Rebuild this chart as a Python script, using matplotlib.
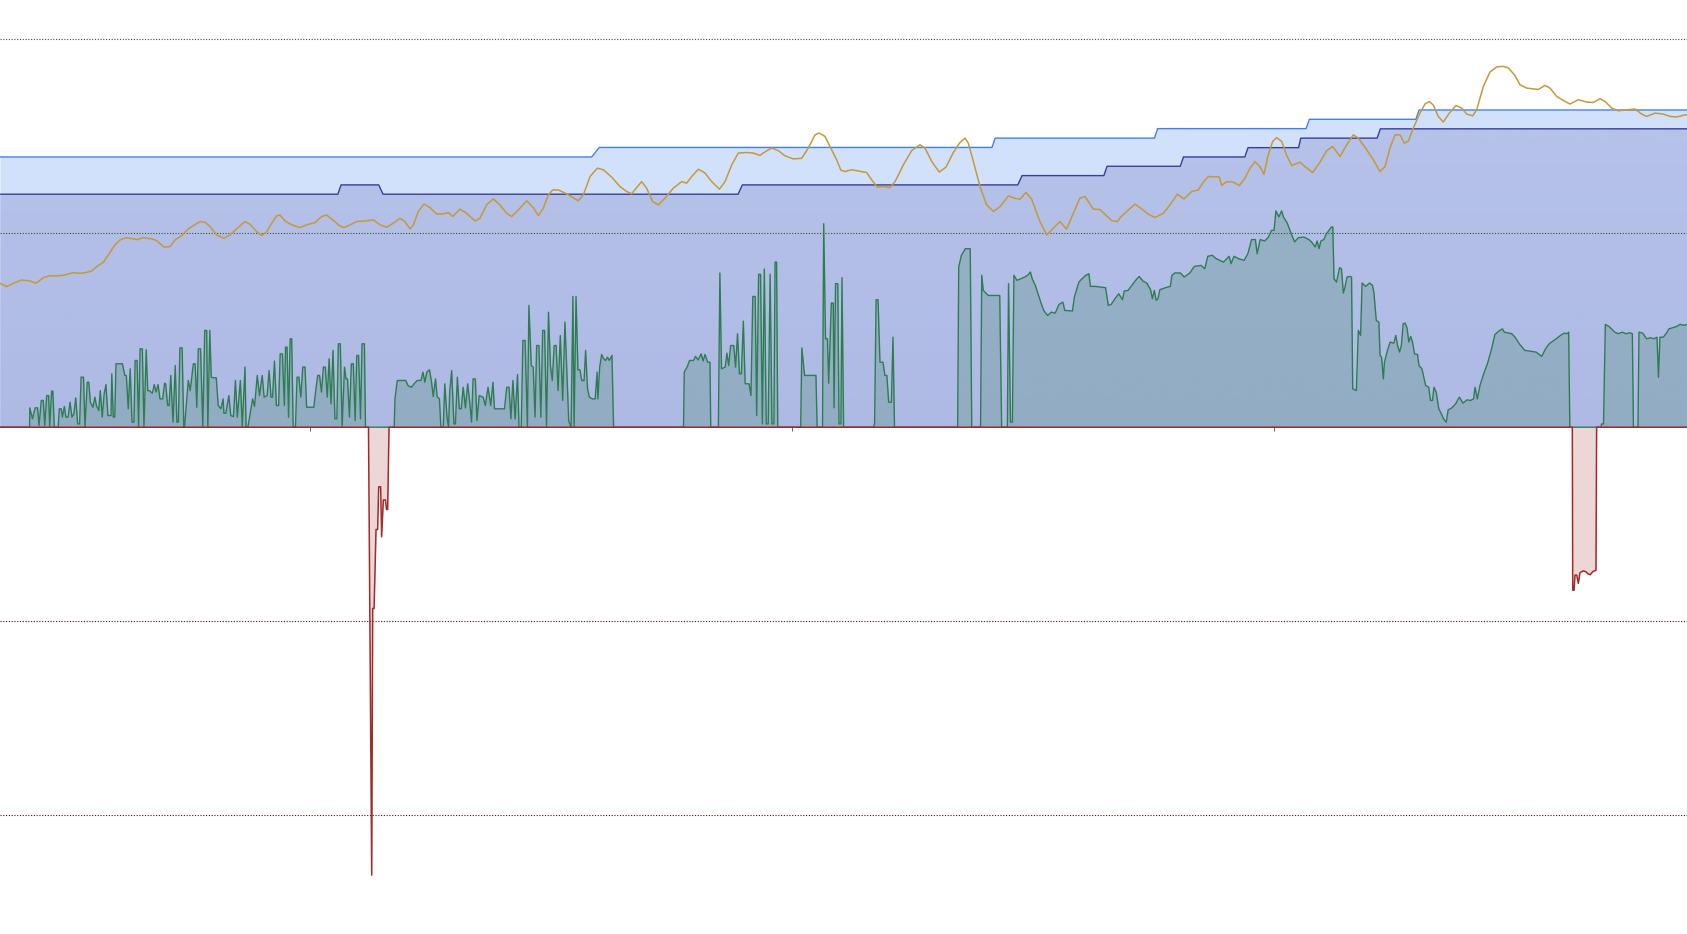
import numpy as np
import matplotlib
matplotlib.use("Agg")
import matplotlib.pyplot as plt
import matplotlib.colors as mcolors

# ---- data (x = sample index, values in % ; grid every 100) ----
blue_x = [0, 550, 557, 922, 925, 1073, 1076, 1214, 1217, 1316, 1319, 1568]
blue_v = [139.3, 139.3, 144.2, 144.2, 149.0, 149.0, 153.9, 153.9, 158.7, 158.7, 163.5, 163.5]

navy_x = [0, 314, 317, 352, 356, 686, 690, 946, 950, 1026, 1029, 1097, 1100,
          1157, 1160, 1207, 1209, 1280, 1283, 1568]
navy_v = [120.1, 120.1, 124.9, 124.9, 120.1, 120.1, 124.9, 124.9, 129.7, 129.7,
          134.5, 134.5, 139.3, 139.3, 144.1, 144.1, 149.0, 149.0, 153.8, 153.8]

gold_x = [0, 6.2, 12.4, 20.1, 27.9, 33.5, 40.3, 46.5, 54.2, 60.4, 68.2, 74.4, 80.5, 85.2,
          89.9, 96, 100.7, 106.9, 111.5, 117.1, 123.9, 127.6, 133.2, 141, 145.6, 152.4,
          158, 162.7, 168.9, 175, 179.7, 185.9, 190.5, 195.2, 201.4, 208.2, 213.8, 220.6,
          227.7, 232.4, 238.6, 243.2, 247.9, 252.5, 257.1, 260.2, 264.9, 271.1, 278.8,
          285, 292.8, 299, 303.6, 309.2, 315.4, 319.7, 325.3, 331.5, 339.2, 347, 353.2,
          359.4, 365.6, 371.8, 376.4, 381.1, 384.2, 388.8, 394.1, 399.7, 405.9, 412,
          416.7, 420.7, 427.5, 433.7, 441.5, 446.1, 452.3, 458.5, 464.7, 470.9, 475.6,
          481.8, 489.5, 495.7, 500.4, 505, 509.7, 513.7, 518.9, 523.6, 528.2, 537.5,
          542.2, 548.4, 555.2, 560.8, 568.5, 576.3, 582.5, 587.1, 592.4, 596.4, 601,
          606.6, 611.9, 618.1, 625.8, 633.6, 638.2, 642.9, 649.1, 655.3, 661.5, 668.6,
          673.9, 680.1, 686.2, 694, 700.2, 706.4, 710.1, 717.2, 723.4, 729.6, 737.4,
          745.1, 751.3, 757.5, 761.5, 766.8, 772.1, 777.7, 781.5, 785.4, 791.6, 797.8,
          805.5, 810.2, 815.4, 821, 827.2, 831.9, 839.6, 847.4, 855.1, 859.7, 866, 873,
          879.3, 886.1, 892.3, 896.9, 900, 904.7, 910.9, 917.1, 923.3, 929.5, 937.2,
          943.4, 948, 953.6, 958.9, 966.6, 972.9, 979, 985.2, 991.4, 997.6, 1003.8,
          1008.5, 1016.2, 1022.4, 1028.6, 1033.3, 1038.5, 1042, 1047.2, 1054.9, 1061.2,
          1067.3, 1073.5, 1081.3, 1087.5, 1094.3, 1100.5, 1107.6, 1113.8, 1118.4, 1123.1,
          1133.3, 1135.5, 1140.2, 1146.3, 1151.9, 1157.2, 1161.8, 1166.5, 1171.1, 1174.8,
          1178.8, 1182.9, 1186.6, 1191.3, 1195.9, 1200.6, 1208.3, 1212.9, 1220.1, 1226.3,
          1233.1, 1238.7, 1245.5, 1251.7, 1257.9, 1262.5, 1270.3, 1276.5, 1282.6, 1287.3,
          1291.9, 1296.6, 1301.3, 1305.2, 1309, 1313.6, 1319.8, 1324.5, 1328.5, 1332.2,
          1336.8, 1341.5, 1347.1, 1353.3, 1358.6, 1363.2, 1368.8, 1372.5, 1378.7, 1384.9,
          1391.1, 1397.3, 1401.9, 1408.1, 1412.8, 1419, 1425.2, 1429.8, 1436, 1440.6,
          1446.9, 1453, 1459.2, 1467, 1474.8, 1480.9, 1487.1, 1491.8, 1498, 1504.1,
          1511.9, 1519.7, 1525.9, 1530.5, 1538.3, 1546, 1552.2, 1558.4, 1566.1, 1568]
gold_v = [74.2, 72.5, 74.2, 75.9, 75.4, 74.2, 77.1, 78.1, 78.0, 78.5, 79.7, 79.3, 79.8, 80.5,
          82.8, 85.0, 88.8, 94.0, 96.5, 97.7, 97.1, 96.7, 97.7, 97.1, 96.2, 92.8,
          93.1, 96.5, 98.8, 102.2, 103.9, 106.0, 105.7, 103.4, 99.1, 97.4, 99.1, 102.6,
          106.0, 104.6, 100.8, 98.8, 100.8, 105.1, 108.9, 109.4, 106.3, 104.3, 102.9,
          104.3, 105.5, 108.6, 109.4, 106.9, 103.9, 102.9, 104.3, 106.0, 106.3, 106.9, 104.3,
          103.1, 105.2, 107.7, 106.0, 102.2, 104.3, 111.2, 115.0, 113.2, 109.8, 110.0,
          110.6, 108.6, 112.4, 110.3, 106.3, 107.7, 114.6, 117.7, 114.6, 110.3, 108.6,
          112.0, 116.7, 113.2, 109.1, 112.9, 119.8, 122.3, 122.3, 121.1, 119.8, 116.7,
          119.8, 129.2, 133.5, 132.7, 128.9, 124.0, 121.5, 120.3, 124.0, 126.6, 123.2,
          116.3, 114.6, 118.1, 123.2, 126.6, 125.8, 129.2, 133.0, 131.0, 126.6, 122.7,
          126.6, 135.2, 141.3, 141.6, 141.3, 140.1, 141.6, 143.9, 142.6, 139.9, 138.3,
          138.6, 143.9, 150.7, 151.6, 149.9, 143.9, 137.8, 132.5, 131.8, 132.7, 132.1,
          131.3, 127.5, 123.7, 124.1, 123.5, 126.6, 135.2, 142.6, 145.6, 143.9, 137.0, 131.5,
          134.1, 141.6, 146.8, 149.0, 146.4, 137.0, 124.0, 114.6, 111.2, 113.7, 119.2,
          118.0, 117.5, 121.0, 117.5, 106.0, 99.1, 102.6, 106.0, 102.1, 110.3, 118.1,
          118.9, 112.4, 112.2, 108.9, 106.5, 106.0, 108.5, 111.2, 115.0, 112.5,
          109.8, 108.1, 110.3, 114.6, 120.1, 117.7, 121.5, 122.3, 126.3, 129.2,
          129.0, 124.6, 126.6, 126.3, 124.6, 128.4, 133.5, 136.9, 134.3, 130.4,
          140.4, 147.3, 149.3, 147.3, 140.1, 134.9, 136.6, 134.3, 131.3, 136.1,
          142.5, 144.7, 139.5, 145.6, 150.7, 149.0, 143.0, 137.8, 131.8, 134.3,
          143.9, 150.7, 150.7, 146.4, 147.5, 154.2, 161.9, 166.6, 167.9, 166.0,
          160.2, 157.3, 161.9, 165.8, 164.5, 161.4, 160.5, 163.6, 175.6, 183.1,
          185.7, 186.0, 185.2, 181.3, 176.5, 174.8, 174.4, 174.1, 176.2, 174.8,
          170.5, 168.4, 166.6, 168.8, 167.6, 167.4, 169.3, 167.9, 164.5, 163.1,
          163.6, 164.0, 161.4, 160.2, 161.9, 161.4, 160.2, 159.9, 161.0, 161.0]

green_x = [0, 27.5, 27.7, 30.2, 32.7, 34.9, 36.3, 38.4, 40.2, 41.6, 43.4, 45.2, 46.2, 48.0,
           49.1, 50.5, 54.1, 55.1, 56.9, 58.0, 59.8, 61.2, 63.3, 65.1, 66.9, 68.7, 70.4,
           72.2, 74.0, 75.4, 77.6, 79.0, 81.1, 82.5, 84.0, 86.4, 88.2, 89.6, 91.8, 93.2,
           95.0, 96.8, 98.5, 100.3, 103.2, 103.9, 105.3, 106.7, 107.8, 113.8, 116.0, 117.4,
           119.2, 121.0, 122.7, 124.5, 125.6, 127.4, 128.8, 130.2, 132.3, 133.8, 135.9,
           137.3, 138.7, 141.6, 143.4, 145.1, 146.9, 148.7, 151.2, 153.0, 154.0, 155.8,
           157.2, 158.7, 160.8, 162.9, 164.4, 165.8, 167.2, 169.3, 170.8, 171.5, 175.0,
           176.8, 179.7, 181.4, 182.9, 184.3, 186.4, 188.5, 190.3, 192.1, 193.2, 195.0,
           196.4, 198.5, 201.0, 202.8, 205.3, 207.4, 208.1, 209.9, 212.7, 214.5, 217.0,
           218.8, 220.6, 223.4, 225.2, 227.7, 228.7, 230.5, 234.8, 236.6, 239.1, 241.2,
           243.7, 245.5, 248.3, 250.1, 251.9, 253.3, 255.1, 256.9, 259.0, 260.4, 262.5,
           264.3, 265.4, 266.8, 268.2, 269.7, 271.1, 272.5, 274.6, 276.1, 277.8, 279.6,
           281.4, 283.5, 285.0, 291.7, 293.5, 295.3, 297.0, 298.8, 300.6, 302.4, 304.2,
           305.9, 307.7, 309.5, 311.3, 313.1, 314.5, 316.3, 318.0, 320.2, 321.6, 323.0,
           324.8, 326.6, 328.4, 330.1, 331.6, 333.3, 335.1, 336.5, 338.7, 339.7,
           366.4, 367.1, 369.3, 377.1, 379.2, 382.4, 384.9, 387.8, 391.3, 393.1, 394.9,
           396.7, 399.1, 400.9, 402.7, 404.8, 406.3, 408.4, 409.8, 412.0, 413.4, 415.5,
           416.9, 418.0, 419.8, 421.9, 423.3, 425.1, 426.9, 428.7, 430.5, 432.6, 434.7,
           436.9, 438.3, 439.7, 441.8, 443.3, 445.4, 449.0, 451.1, 453.6, 456.1, 458.2,
           459.6, 461.8, 468.9, 471.0, 473.1, 474.9, 476.7, 478.8, 481.0, 482.4, 484.5,
           486.0, 488.1, 490.2, 491.6, 493.8, 495.6, 497.3, 498.8, 500.9, 502.7, 504.4,
           506.2, 508.0, 509.8, 511.6, 513.3, 515.1, 516.9, 518.7, 520.8, 523.0, 525.1,
           526.5, 528.6, 530.8, 532.5, 533.6, 535.4, 537.2, 539.0, 540.7, 542.9, 544.3,
           546.1, 547.8, 550.7, 553.2, 555.0, 555.7, 557.4, 559.2, 561.0, 562.8, 564.6,
           566.3, 568.8, 570.3,
           635.3, 636.0, 638.6, 641.0, 644.6, 646.4, 648.9, 651.7, 653.5, 655.3, 657.8,
           659.9, 660.6, 667.7, 669.1, 670.6, 674.1, 675.6, 677.3, 679.1, 682.0, 683.7,
           685.5, 687.3, 689.1, 690.9, 692.6, 696.2, 698.0, 699.7, 701.9, 703.3, 705.1,
           706.9, 708.6, 710.4, 712.2, 714.0, 715.8, 717.5, 719.3, 720.4, 721.8, 722.9,
           744.2, 745.3, 747.8, 758.4, 759.5, 764.5, 765.6, 767.3, 769.1, 770.2, 772.7,
           774.5, 775.2, 776.6, 778.7, 779.8, 781.6, 782.6, 784.1,
           811.8, 812.9, 814.3, 816.1, 817.9, 820.7, 822.5, 824.3, 826.0, 828.5, 830.0,
           831.4, 890.1, 891.1, 893.6, 897.2, 901.8, 903.2, 911.4, 912.5, 913.9, 918.5,
           929.2, 931.0, 936.3, 937.4, 939.2, 941.0, 942.4, 945.2, 948.8, 952.3, 955.2,
           957.7, 959.4, 962.3, 964.8, 967.3, 970.1, 973.7, 977.2, 980.8, 984.3, 987.9,
           989.7, 996.8, 998.6, 1002.8, 1005.7, 1009.2, 1012.1, 1013.5, 1018.1, 1023.5,
           1027.6, 1030.1, 1032.8, 1036.3, 1039.8, 1043.3, 1045.0, 1048.5, 1052.0, 1055.5,
           1058.9, 1062.4, 1065.9, 1069.4, 1071.1, 1072.9, 1074.6, 1076.3, 1078.1, 1083.3,
           1087.8, 1089.2, 1092.0, 1097.2, 1100.7, 1105.9, 1110.1, 1116.3, 1119.8, 1122.6,
           1126.8, 1130.3, 1137.2, 1142.4, 1144.2, 1147.0, 1151.1, 1156.4, 1159.8, 1163.3,
           1166.8, 1168.5, 1171.3, 1175.5, 1179.0, 1181.8, 1184.2, 1185.9, 1188.7, 1191.2,
           1192.9, 1196.4, 1199.9, 1203.3, 1206.8, 1212.0, 1216.6, 1219.0, 1222.5, 1224.2,
           1226.0, 1227.7, 1230.5, 1232.9, 1235.3, 1237.4, 1238.8, 1239.9, 1242.3, 1245.1,
           1246.8, 1248.6, 1250.3, 1252.0, 1254.8, 1256.2, 1257.3, 1260.7, 1262.5, 1264.6,
           1266.0, 1269.4, 1272.9, 1275.7, 1277.1, 1279.2, 1281.6, 1282.7, 1284.1, 1285.8,
           1286.8, 1289.6, 1292.1, 1295.5, 1297.3, 1299.0, 1300.8, 1302.5, 1304.2, 1306.0,
           1307.7, 1309.5, 1311.2, 1312.9, 1314.7, 1317.5, 1318.9, 1321.6, 1325.1, 1327.9,
           1329.6, 1331.4, 1332.8, 1334.9, 1337.3, 1339.7, 1341.8, 1344.2, 1346.0, 1349.5,
           1352.9, 1356.4, 1359.9, 1363.4, 1366.9, 1369.6, 1371.0, 1373.1, 1375.6, 1379.0,
           1382.5, 1386.0, 1389.5, 1393.0, 1396.4, 1398.2, 1405.1, 1408.6, 1412.1, 1417.3,
           1422.5, 1427.8, 1433.0, 1436.5, 1439.9, 1445.2, 1450.4, 1453.9, 1456.6, 1458.0,
           1459.1, 1488.0, 1488.6, 1490.4, 1492.1, 1495.6, 1500.8, 1504.3, 1507.8, 1511.3,
           1514.7, 1517.2, 1518.2, 1522.4, 1523.4, 1526.9, 1530.4, 1533.9, 1537.4, 1540.1,
           1541.5, 1542.9, 1546.1, 1549.5, 1551.3, 1554.8, 1558.2, 1561.7, 1565.2, 1568]
green_v = [0, 0, 10.0, 4.3, 10.0, 10.0, 0.9, 13.8, 13.8, 0.9, 16.3, 16.3, 0.3, 18.6,
           18.6, 0, 0, 9.5, 9.5, 5.2, 10.7, 5.2, 5.2, 12.9, 5.2, 6.9, 15.1,
           1.7, 1.7, 25.8, 25.8, 0, 23.2, 23.2, 12.9, 10.3, 15.5, 11.2, 8.6, 18.9,
           5.2, 17.2, 22.0, 6.0, 6.0, 27.5, 5.2, 5.2, 32.7, 32.7, 26.7, 26.7,
           9.5, 30.1, 2.6, 2.6, 34.4, 34.4, 0, 40.4, 40.4, 0, 39.9,
           18.9, 18.9, 17.5, 22.0, 18.1, 22.0, 14.6, 14.6, 22.7, 22.4, 11.2,
           11.2, 26.7, 2.6, 31.8, 2.6, 2.6, 40.9, 40.9, 0, 0, 24.1,
           18.9, 32.7, 32.7, 10.3, 40.4, 40.4, 0, 49.9, 49.9, 0, 49.9,
           25.8, 25.5, 25.5, 11.2, 9.5, 14.6, 7.2, 7.2, 16.3, 6.0, 5.5,
           24.1, 5.2, 24.1, 0.3, 31.0, 0.3, 0.3, 14.6, 10.7, 26.7, 16.3,
           26.7, 15.5, 16.3, 29.2, 15.5, 15.5, 34.1, 11.2, 11.2, 37.8, 37.8,
           11.2, 41.3, 41.3, 5.2, 45.6, 45.6, 0, 0, 25.8, 25.8, 15.5,
           31.0, 31.0, 10.3, 10.3, 18.9, 26.7, 26.7, 18.1, 31.0, 31.0, 15.5,
           35.3, 12.0, 39.6, 4.3, 4.3, 43.0, 43.0, 0.3, 31.0, 24.9, 24.9,
           5.2, 32.7, 32.7, 3.4, 37.0, 37.0, 4.3, 43.0, 43.0, 0,
           0, 14.6, 24.1, 24.1, 21.5, 20.6, 22.4, 24.1, 24.1, 28.4, 23.2,
           28.4, 29.6, 24.1, 15.8, 24.9, 15.8, 14.6, 0, 0, 22.4, 5.2,
           0, 18.1, 29.2, 1.7, 1.7, 25.8, 9.5, 9.5, 20.6, 10.0, 22.4,
           11.2, 2.6, 24.9, 24.9, 3.4, 16.3, 15.5, 11.2, 20.6, 11.2, 23.2,
           9.5, 9.5, 9.5, 20.6, 20.6, 4.3, 24.1, 4.3, 27.2, 0, 0,
           44.7, 44.7, 0, 62.8, 31.8, 31.0, 5.2, 42.1, 42.1, 5.2, 49.9,
           49.9, 0, 59.3, 31.8, 24.1, 42.1, 42.1, 18.9, 47.3, 13.8, 54.2,
           34.4, 3.4, 0, 67.4, 0, 67.4, 29.6, 29.6, 24.1, 24.1, 39.6,
           19.8, 15.5, 14.6, 14.6, 28.4, 14.6, 31.0, 37.5, 35.3, 34.4, 36.1,
           34.4, 37.0, 0,
           0, 28.4, 31.0, 34.4, 34.4, 36.5, 34.7, 37.8, 34.1, 37.5, 33.5,
           33.5, 0, 0, 79.5, 30.1, 31.0, 38.2, 31.8, 42.1, 42.1, 31.0,
           48.2, 27.5, 27.5, 54.7, 22.4, 22.4, 16.3, 67.4, 67.4, 6.0, 78.8,
           78.8, 1.7, 81.5, 1.7, 1.7, 78.8, 1.7, 1.7, 85.1, 85.1, 0,
           0, 40.9, 26.7, 26.7, 0, 0, 104.9, 45.6, 45.6, 22.7, 64.0,
           64.0, 10.0, 74.0, 74.0, 1.7, 1.7, 77.1, 0,
           0, 1.7, 65.7, 65.7, 33.5, 33.5, 26.7, 26.7, 12.9, 12.9, 46.4,
           0, 0, 82.6, 88.6, 92.0, 92.0, 0, 0, 78.3, 70.5, 67.9,
           67.9, 0, 0, 74.0, 2.6, 2.6, 78.3, 75.7, 76.5, 77.4, 78.3,
           80.0, 76.5, 73.1, 68.8, 64.5, 60.2, 57.6, 59.3, 58.8, 63.3, 64.5,
           60.2, 59.9, 67.1, 74.8, 76.5, 78.3, 79.1, 72.6, 72.6, 72.2,
           71.9, 62.8, 63.3, 66.2, 68.8, 65.7, 70.2, 70.5, 73.1, 75.7,
           77.7, 75.3, 74.3, 70.9, 66.2, 70.5, 65.4, 66.2, 70.9, 71.9,
           72.6, 78.3, 79.5, 79.5, 77.4, 79.5, 82.9, 83.4, 81.7, 88.1,
           88.6, 86.9, 85.1, 88.1, 84.3, 88.1, 86.9, 86.0, 89.4, 96.7,
           96.7, 89.4, 96.7, 96.0, 98.0, 101.5, 101.5, 111.5, 108.4, 111.5,
           108.4, 105.3, 100.1, 95.5, 97.7, 98.0, 96.7, 95.5, 92.9, 96.0,
           92.0, 96.0, 96.7, 99.8, 101.5, 103.2, 103.2, 76.5, 74.8, 82.2,
           81.7, 69.1, 72.6, 77.4, 77.7, 77.4, 19.8, 18.9, 49.9, 47.3,
           74.3, 72.6, 74.3, 73.1, 68.8, 55.0, 54.2, 37.0, 36.1, 24.9,
           33.5, 39.6, 43.9, 43.3, 47.3, 42.1, 38.7, 42.1, 53.3, 53.7,
           51.3, 43.9, 46.8, 43.9, 37.8, 37.5, 31.8, 30.1, 21.5, 20.6,
           13.8, 13.8, 20.6, 18.1, 9.5, 6.9, 4.3, 2.6, 8.9, 10.0,
           12.0, 15.5, 12.4, 14.1, 13.8, 14.6, 20.6, 14.6, 21.5, 27.5,
           32.7, 39.6, 47.8, 49.5, 50.7, 49.0, 48.2, 46.1, 43.0, 39.6,
           39.2, 38.7, 36.5, 40.4, 43.0, 45.1, 47.3, 48.5, 48.2, 49.0,
           0, 0, 1.7, 1.7, 53.0, 51.9, 49.0, 48.2, 49.0, 48.2,
           48.7, 48.2, 0, 0, 49.0, 48.5, 45.6, 46.1, 45.6, 46.4,
           25.8, 46.4, 46.4, 49.0, 50.7, 51.3, 51.9, 53.0, 52.5, 53.0]

red_x = [0, 342.5, 345.5, 346.4, 347.7, 349.5, 351, 352, 353.8, 354.7, 356.3, 358.2,
         359.3, 360.3, 361.6, 1461.4, 1461.8, 1463, 1463.9, 1465.5, 1467, 1468.5,
         1471.6, 1474, 1476.3, 1478, 1480.3, 1483.4, 1484, 1568]
red_v = [0, 0, -230.9, -93.4, -93.4, -52.7, -52.7, -30.7, -30.7, -56.5, -37.5, -37.5,
         -42.4, -42.4, 0, 0, -84.0, -84.0, -76.2, -76.2, -80.5, -75.0,
         -74.0, -74.5, -75.7, -76.0, -74.5, -73.7, 0, 0]

tick_pos = [288, 736, 1184]
grid_up = [100, 200]
grid_down = [-100, -200]


def grad_fill(ax, x, y, color, a_top, a_bot, z):
    poly = ax.fill_between(x, y, 0, facecolor='none', edgecolor='none')
    arr = np.zeros((256, 1, 4))
    arr[..., :3] = mcolors.to_rgb(color)
    arr[..., 3] = np.linspace(a_top, a_bot, 256)[:, None]
    im = ax.imshow(arr, extent=[min(x), max(x), 0, max(y)], origin='upper',
                   aspect='auto', zorder=z, interpolation='bilinear')
    im.set_clip_path(poly.get_paths()[0], transform=ax.transData)


fig = plt.figure(figsize=(16.87, 9.34), dpi=100)
ax = fig.add_axes([0, 0, 1, 1])

blue_c = '#3f7ff2'
navy_c = '#3b3d9c'
gold_c = '#c49a3a'
green_c = '#2e7d50'
red_c = '#a12a2a'

ax.fill_between(blue_x, blue_v, 0, color=blue_c, alpha=0.23, lw=0, zorder=1)
grad_fill(ax, navy_x, navy_v, navy_c, 0.19, 0.24, 2)
ax.fill_between(green_x, green_v, 0, color=green_c, alpha=0.22, lw=0, zorder=3)
ax.fill_between(red_x, red_v, 0, color=red_c, alpha=0.19, lw=0, zorder=3)

for g in grid_up:
    ax.axhline(g, color='#2f5a2f', lw=0.8, ls=(0, (1, 1.5)), zorder=4)
for g in grid_down:
    ax.axhline(g, color='#4a1515', lw=0.8, ls=(0, (1, 1.5)), zorder=4)

ax.plot(blue_x, blue_v, color=blue_c, lw=1.0, zorder=5)
ax.plot(navy_x, navy_v, color=navy_c, lw=1.0, zorder=5)
ax.plot(green_x, green_v, color=green_c, lw=1.0, zorder=6)
ax.plot(red_x, red_v, color=red_c, lw=1.1, zorder=6)
ax.plot(gold_x, gold_v, color=gold_c, lw=1.1, zorder=7)

ax.set_xlim(0, 1568)
ax.set_ylim(-261.2, 220.2)
for s in ax.spines.values():
    s.set_visible(False)
ax.spines['bottom'].set_position(('data', 0))
ax.set_xticks(tick_pos)
ax.set_yticks([])
ax.tick_params(axis='x', direction='out', length=3, width=0.7, color='#666666',
               labelbottom=False)
ax.set_facecolor('white')

fig.savefig('out.png', dpi=100)
